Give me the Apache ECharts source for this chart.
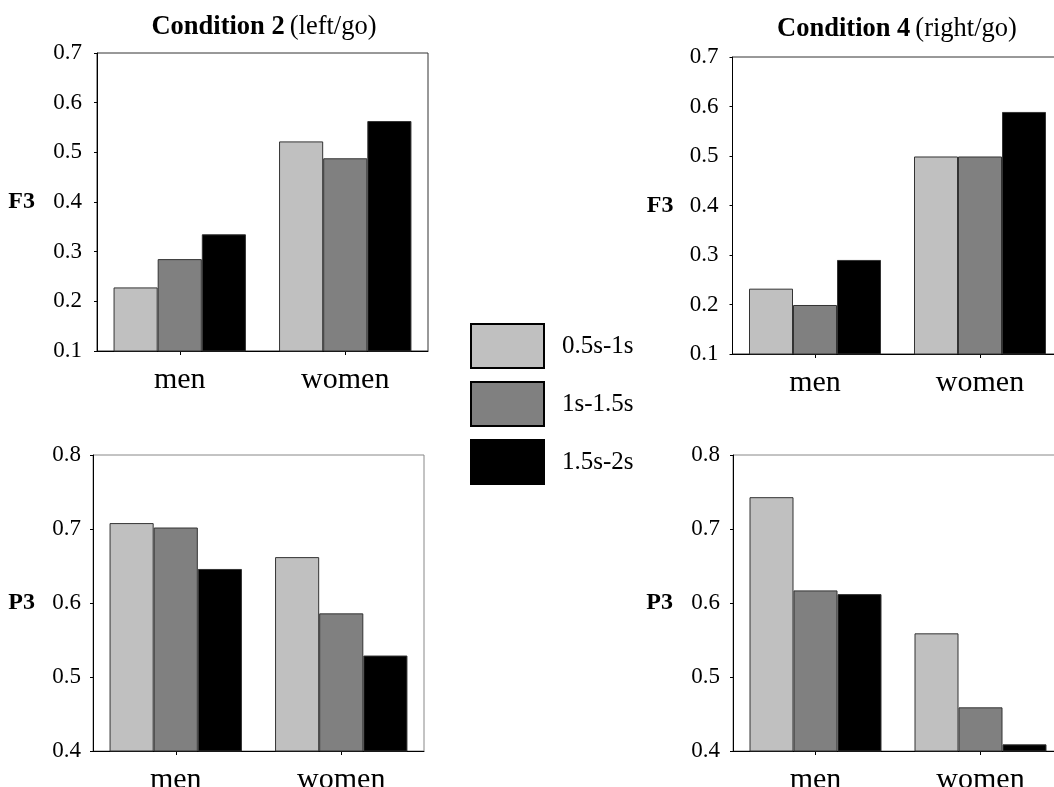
<!DOCTYPE html>
<html>
<head>
<meta charset="utf-8">
<script src="https://cdn.jsdelivr.net/npm/echarts@6/dist/echarts.min.js"></script>
<style>
html,body{margin:0;padding:0;background:#fff;}
#chart{width:1054px;height:787px;}
</style>
</head>
<body>
<div id="chart"></div>
<script>
// ---- data ----
const categories = ['men', 'women'];
const seriesNames = ['0.5s-1s', '1s-1.5s', '1.5s-2s'];
const seriesColors = ['#c0c0c0', '#808080', '#000000'];

// Condition 2 (left/go), F3
const cond2F3_a = [0.228, 0.522];
const cond2F3_b = [0.285, 0.488];
const cond2F3_c = [0.335, 0.563];
// Condition 4 (right/go), F3
const cond4F3_a = [0.232, 0.499];
const cond4F3_b = [0.199, 0.499];
const cond4F3_c = [0.290, 0.589];
// Condition 2 (left/go), P3
const cond2P3_a = [0.708, 0.662];
const cond2P3_b = [0.702, 0.586];
const cond2P3_c = [0.646, 0.529];
// Condition 4 (right/go), P3
const cond4P3_a = [0.743, 0.559];
const cond4P3_b = [0.617, 0.459];
const cond4P3_c = [0.612, 0.409];

const panelData = [
  [cond2F3_a, cond2F3_b, cond2F3_c],
  [cond4F3_a, cond4F3_b, cond4F3_c],
  [cond2P3_a, cond2P3_b, cond2P3_c],
  [cond4P3_a, cond4P3_b, cond4P3_c]
];
const yNames = ['F3', 'F3', 'P3', 'P3'];
const yMin = [0.1, 0.1, 0.4, 0.4];
const yMax = [0.7, 0.7, 0.8, 0.8];

// ---- layout ----
const FONT = 'Liberation Serif';
const grids = [
  {left: 97, top: 53, width: 331, height: 298, borderColor: '#333'},
  {left: 732.5, top: 57, width: 330, height: 297, borderColor: '#333'},
  {left: 93, top: 455, width: 331, height: 296, borderColor: '#888'},
  {left: 733, top: 455, width: 330, height: 296, borderColor: '#888'}
];
const yLabelMargin = [15, 14, 12, 13];
const yNameGap = [62, 59, 58, 60];
const yNamePadTop = [10, 9, 6, 2];

const titleRich = {
  b: {fontFamily: FONT, fontSize: 26.5, fontWeight: 'bold', color: '#000'},
  n: {fontFamily: FONT, fontSize: 26.5, fontWeight: 'normal', color: '#000'}
};

const option = {
  backgroundColor: '#fff',
  animation: false,
  title: [
    {
      text: '{b|Condition 2} {n|(left/go)}',
      left: 259, top: 9, textAlign: 'center',
      textStyle: {rich: titleRich}
    },
    {
      text: '{b|Condition 4} {n|(right/go)}',
      left: 892, top: 11, textAlign: 'center',
      textStyle: {rich: titleRich}
    }
  ],
  legend: {
    orient: 'vertical',
    left: 465, top: 318,
    itemWidth: 73, itemHeight: 44, itemGap: 12,
    icon: 'rect',
    data: seriesNames,
    itemStyle: {borderColor: '#000', borderWidth: 2},
    textStyle: {fontFamily: FONT, fontSize: 25, color: '#000', padding: [0, 0, 0, 13]}
  },
  grid: grids.map(g => ({
    left: g.left, top: g.top, width: g.width, height: g.height,
    outerBoundsMode: 'none', containLabel: false,
    show: true, borderColor: g.borderColor, borderWidth: 1, backgroundColor: 'transparent'
  })),
  xAxis: grids.map((g, i) => ({
    type: 'category', gridIndex: i, data: categories,
    axisLine: {show: true, lineStyle: {color: '#000', width: 1}},
    axisTick: {show: true, alignWithLabel: true, length: 4, lineStyle: {color: '#000'}},
    axisLabel: {fontFamily: FONT, fontSize: 30, color: '#000', margin: 14},
    splitLine: {show: false}
  })),
  yAxis: grids.map((g, i) => ({
    type: 'value', gridIndex: i, min: yMin[i], max: yMax[i], interval: 0.1,
    name: yNames[i], nameLocation: 'middle', nameRotate: 0, nameGap: yNameGap[i],
    nameTextStyle: {fontFamily: FONT, fontSize: 24, fontWeight: 'bold', color: '#000',
      padding: [yNamePadTop[i], 0, 0, 0]},
    axisLine: {show: true, lineStyle: {color: '#000', width: 1}},
    axisTick: {show: true, length: 3, lineStyle: {color: '#000'}},
    axisLabel: {fontFamily: FONT, fontSize: 23, color: '#000', margin: yLabelMargin[i],
      formatter: v => v.toFixed(1)},
    splitLine: {show: false}
  })),
  series: []
};

panelData.forEach((arrs, p) => {
  arrs.forEach((vals, s) => {
    option.series.push({
      type: 'bar', name: seriesNames[s],
      xAxisIndex: p, yAxisIndex: p,
      data: vals,
      barGap: '0%', barCategoryGap: '20%',
      itemStyle: {color: seriesColors[s], borderColor: '#333', borderWidth: 1},
      emphasis: {disabled: true}
    });
  });
});

const chart = echarts.init(document.getElementById('chart'), null, {renderer: 'canvas'});
chart.setOption(option);
</script>
</body>
</html>
